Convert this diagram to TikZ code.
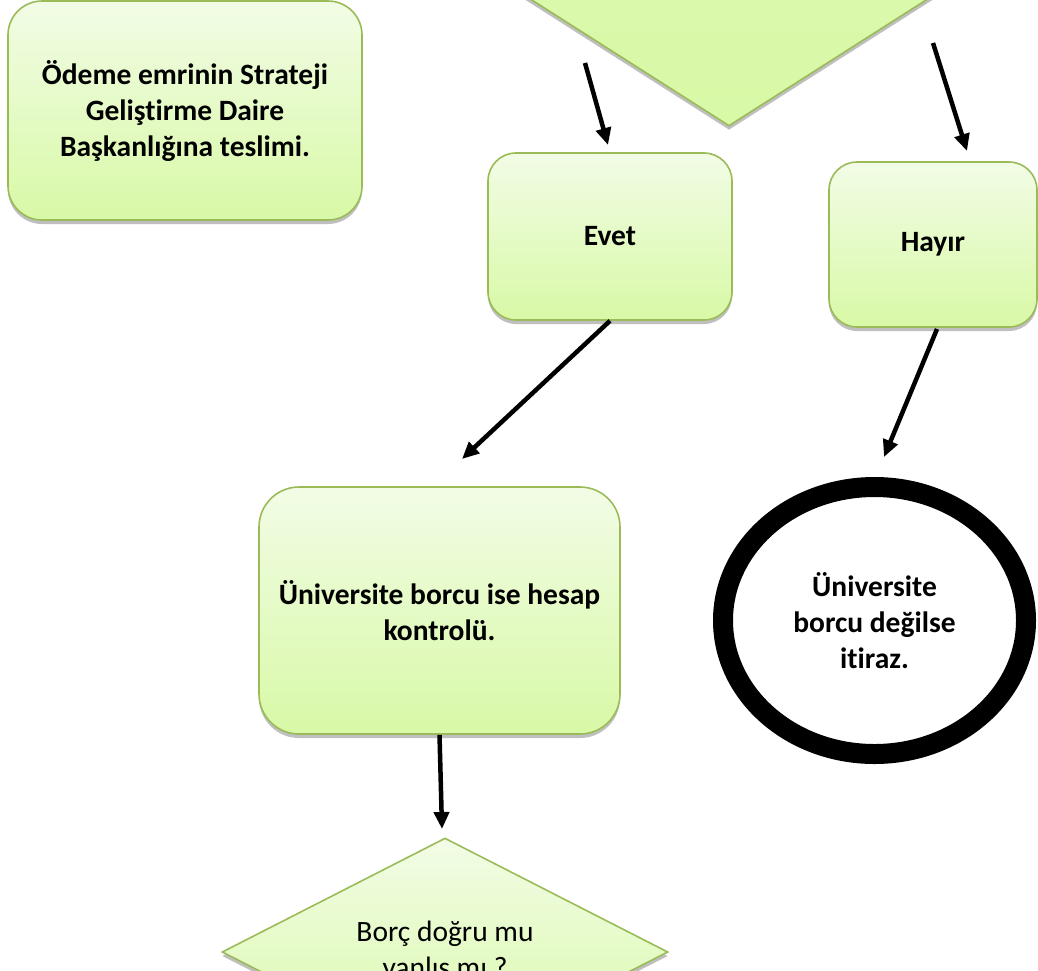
\documentclass[tikz,border=0pt]{standalone}
\usepackage{fontspec}
\setmainfont{Carlito}[Ligatures={NoCommon}]
\usetikzlibrary{shapes.geometric,arrows.meta,shadows}
\definecolor{gtop}{RGB}{242,252,230}
\definecolor{gbot}{RGB}{216,249,166}
\definecolor{gborder}{RGB}{155,187,89}
\tikzset{
  shd/.style={drop shadow={shadow xshift=0pt,shadow yshift=-4pt,opacity=0.25,fill=black}},
  greenbox/.style={draw=gborder,line width=1.6pt,top color=gtop,bottom color=gbot,
    shd,align=center,inner sep=0pt,font=\fontsize{29.5}{36}\selectfont\bfseries},
  greendiamond/.style={diamond,draw=gborder,line width=1.6pt,top color=gtop,bottom color=gbot,
    shd,align=center,inner sep=0pt,aspect=2,font=\fontsize{29.5}{36}\selectfont},
  ringnode/.style={ellipse,draw=black,line width=20pt,fill=white,align=center,inner sep=0pt,
    font=\fontsize{29.5}{36}\selectfont\bfseries},
  arr/.style={line width=4.5pt,black,-{Triangle[length=17pt,width=15pt]}}
}
\begin{document}
\begin{tikzpicture}[x=1pt,y=-1pt]
\useasboundingbox (0,0) rectangle (1038,970);
\clip (0,0) rectangle (1038,970);
% top decision (cut by the page top)
\node[greendiamond,minimum width=784pt,minimum height=500pt,top color=gbot!70!gtop] (topd) at (729,-124) {};
% boxes
\node[greenbox,rounded corners=34pt,minimum width=354pt,minimum height=219pt] (odeme) at (185,110.5)
  {Ödeme emrinin Strateji\\Geliştirme Daire\\Başkanlığına teslimi.};
\node[greenbox,rounded corners=28pt,minimum width=244pt,minimum height=167pt] (evet) at (610,236.5) {Evet};
\node[greenbox,rounded corners=28pt,minimum width=208pt,minimum height=165pt] (hayir) at (933,244.5) {Hayır};
\node[greenbox,rounded corners=40pt,minimum width=361pt,minimum height=247pt] (hesap) at (439.5,610.5)
  {Üniversite borcu ise hesap\\kontrolü.};
\node[ringnode,minimum width=303pt,minimum height=267pt] (itiraz) at (874.5,620.5)
  {Üniversite\\borcu değilse\\itiraz.};
\node[greendiamond,minimum width=446pt,minimum height=228pt] (borc) at (445,952)
  {Borç doğru mu\\yanlış mı ?};
% free ends of connectors
\coordinate (e1s) at (585,63);
\coordinate (e1t) at (608,145);
\coordinate (h1s) at (933,43);
\coordinate (h1t) at (967,151);
\coordinate (e2t) at (462,459);
\coordinate (h2s) at (937,329);
\coordinate (h2t) at (884,457);
\coordinate (b1t) at (442,829);
% connectors
\draw[arr] (e1s) -- (e1t);
\draw[arr] (h1s) -- (h1t);
\draw[arr] (evet.south) -- (e2t);
\draw[arr] (h2s) -- (h2t);
\draw[arr] (hesap.south) -- (b1t);
\end{tikzpicture}
\end{document}
